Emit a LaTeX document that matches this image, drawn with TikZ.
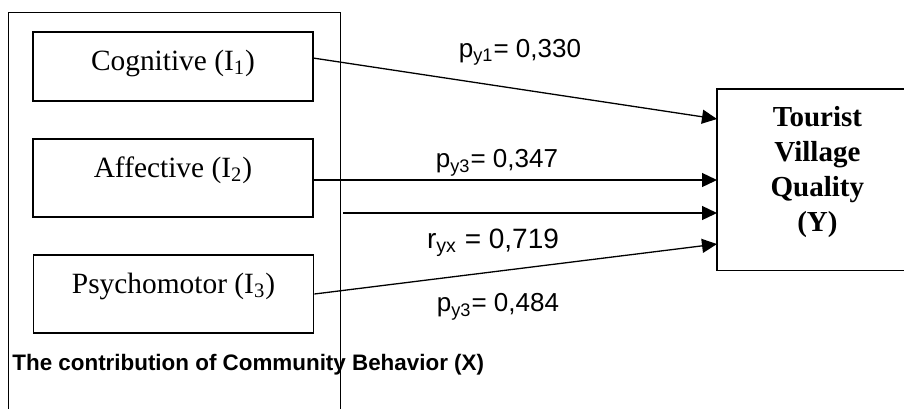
\documentclass[tikz,border=0pt]{standalone}
\usepackage{fontspec}
\setmainfont{Liberation Serif}
\setsansfont{Liberation Sans}
\usetikzlibrary{arrows.meta}

\begin{document}
\begin{tikzpicture}[x=0.5pt, y=-0.5pt,
  indicator/.style={draw, line width=0.9pt, inner sep=0pt, minimum width=140pt},
  boxtext/.style={font=\fontsize{14.7}{17}\selectfont},
  effect/.style={line width=0.65pt, -{Triangle[length=7.5pt,width=7pt]}},
  coef/.style={font=\sffamily\fontsize{13}{15}\selectfont}]
  \useasboundingbox (0,0) rectangle (904,408);

  % frame round the three indicators (open at the bottom)
  \draw[line width=0.5pt] (8,430) |- (340,12) -- (340,430);
  \node[anchor=base west, inner sep=0pt, font=\sffamily\bfseries\fontsize{11.2}{13}\selectfont] (title) at (12,370) {The contribution of Community Behavior (X)};

  % indicators of X
  \node[indicator, minimum height=34.5pt, label={[boxtext, yshift=1.5pt]center:Cognitive (I\textsubscript{1})}] (cog) at (173,66.5) {};
  \node[indicator, minimum height=39pt, label={[boxtext, yshift=4pt]center:Affective (I\textsubscript{2})}] (aff) at (173,178) {};
  \node[indicator, minimum height=39pt, label={[boxtext, yshift=4pt]center:Psychomotor (I\textsubscript{3})}] (psy) at (173.5,294) {};

  % dependent variable, its right side runs off the page
  \node[anchor=west, inner sep=0pt, minimum width=120pt, minimum height=90.5pt,
    label={[xshift=-10pt, yshift=3.75pt, align=center, font=\bfseries\fontsize{14.5}{17.5}\selectfont]center:Tourist\\Village\\Quality\\(Y)}] (Y) at (717,179.5) {};
  \draw[line width=0.9pt] (Y.north east) -- (Y.north west) -- (Y.south west) -- (Y.south east);

  \coordinate (cog-out) at (313,58);
  \coordinate (x-out) at (343,213);
  \coordinate (y-in1) at (717,119);
  \coordinate (y-in2) at (717,180);
  \coordinate (y-in3) at (717,213);
  \coordinate (y-in4) at (717,244);

  \draw[effect] (cog-out) -- (y-in1);
  \draw[effect] (aff.east |- y-in2) -- (y-in2);
  \draw[effect] (x-out) -- (y-in3);
  \draw[effect] (psy.east) -- (y-in4);

  \node[coef] (c1) at (520,52) {p\textsubscript{y1}= 0,330};
  \node[coef] (c2) at (497,163) {p\textsubscript{y3}= 0,347};
  \node[coef, font=\sffamily\fontsize{14}{16}\selectfont] (cx) at (493,243) {r\textsubscript{yx} = 0,719};
  \node[coef] (c3) at (498,307) {p\textsubscript{y3}= 0,484};
\end{tikzpicture}
\end{document}
